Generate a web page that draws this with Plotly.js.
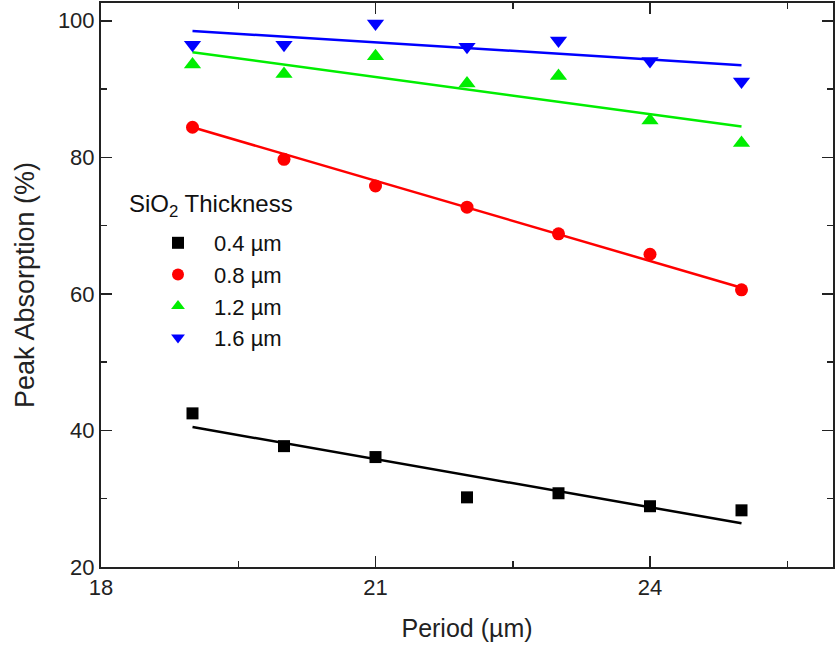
<!DOCTYPE html>
<html>
<head>
<meta charset="utf-8">
<script src="https://cdn.plot.ly/plotly-3.0.1.min.js"></script>
<style>html,body{margin:0;padding:0;background:#fff;}#chart{width:838px;height:648px;}</style>
</head>
<body>
<div id="chart"></div>
<script>
// Period (µm)
const period = [19, 20, 21, 22, 23, 24, 25];
// Peak absorption (%) for each SiO2 thickness
const abs04 = [42.5, 37.7, 36.1, 30.2, 30.8, 28.9, 28.3];
const abs08 = [84.4, 79.7, 75.8, 72.7, 68.8, 65.8, 60.6];
const abs12 = [93.6, 92.2, 94.8, 90.8, 91.9, 85.4, 82.1];
const abs16 = [96.5, 96.5, 99.6, 96.2, 97.1, 94.1, 91.1];
// Linear-fit line endpoints
const fitX = [19, 25];
const fit04 = [40.5, 26.4];
const fit08 = [84.4, 60.9];
const fit12 = [95.4, 84.5];
const fit16 = [98.5, 93.5];
const seriesNames = ['0.4 \u00b5m', '0.8 \u00b5m', '1.2 \u00b5m', '1.6 \u00b5m'];
const legendTitle = 'SiO<sub>2</sub> Thickness';
const colors = ['#000000', '#ff0000', '#00ee00', '#0000ff'];
const symbols = ['square', 'circle', 'triangle-up', 'triangle-down'];
const sizes = [12, 13, 15, 15];

const F = 'Liberation Sans, Arial, sans-serif';
const data = [];
const ys = [abs04, abs08, abs12, abs16];
const fits = [fit04, fit08, fit12, fit16];
for (let i = 0; i < 4; i++) {
  data.push({x: fitX, y: fits[i], mode: 'lines', type: 'scatter', showlegend: false,
    line: {color: colors[i], width: 2.5}, hoverinfo: 'skip'});
}
for (let i = 0; i < 4; i++) {
  data.push({x: period, y: ys[i], mode: 'markers', type: 'scatter', name: seriesNames[i],
    marker: {color: colors[i], symbol: symbols[i], size: sizes[i]}});
}
const axisCommon = {
  showline: true, linecolor: '#222', linewidth: 2, mirror: 'ticks',
  ticks: 'inside', ticklen: 11, tickwidth: 1.5, tickcolor: '#222',
  showgrid: false, zeroline: false,
  tickfont: {family: F, size: 22, color: '#222'}
};
const plotW = 838 - 101 - 5;
const plotH = 648 - 3 - 81;
const layout = {
  width: 838, height: 648,
  margin: {l: 101, r: 5, t: 3, b: 81},
  paper_bgcolor: '#fff', plot_bgcolor: '#fff',
  font: {family: F, color: '#222'},
  xaxis: Object.assign({}, axisCommon, {
    range: [18, 26], tickvals: [18, 21, 24], ticktext: ['18', '21', '24'],
    minor: {tickvals: [19.5, 22.5, 25.5], ticklen: 6, tickwidth: 1.5, tickcolor: '#222', ticks: 'inside'},
    title: {text: 'Period (\u00b5m)', font: {family: F, size: 25, color: '#222'}, standoff: 20}
  }),
  yaxis: Object.assign({}, axisCommon, {
    range: [20, 102.6], tickvals: [20, 40, 60, 80, 100],
    minor: {tickvals: [30, 50, 70, 90], ticklen: 6, tickwidth: 1.5, tickcolor: '#222', ticks: 'inside'},
    title: {text: 'Peak Absorption (%)', font: {family: F, size: 27, color: '#222'}, standoff: 15}
  }),
  legend: {
    x: (142 - 101) / plotW, y: (567 - 222) / plotH, xanchor: 'left', yanchor: 'top',
    bgcolor: 'rgba(0,0,0,0)',
    font: {family: F, size: 22, color: '#111'},
    itemsizing: 'constant', itemwidth: 62, tracegroupgap: 0
  },
  annotations: [{
    text: legendTitle, xref: 'paper', yref: 'paper',
    x: (127 - 101) / plotW, y: (567 - 205) / plotH, xanchor: 'left', yanchor: 'middle',
    showarrow: false, font: {family: F, size: 24, color: '#111'}
  }],
  showlegend: true
};
Plotly.newPlot('chart', data, layout, {displayModeBar: false, staticPlot: true});
</script>
</body>
</html>
